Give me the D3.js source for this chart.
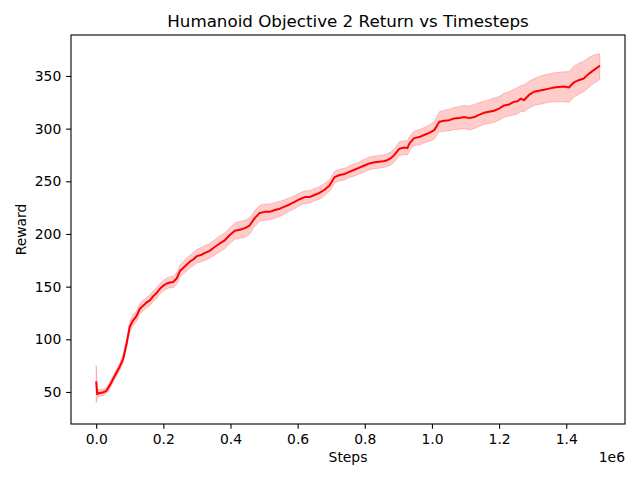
<!DOCTYPE html>
<html><head><meta charset="utf-8">
<script src="https://cdn.jsdelivr.net/npm/d3@7"></script>
<style>body{margin:0;background:#fff}svg{display:block;font-family:"DejaVu Sans",sans-serif}</style>
</head><body><svg id="c" width="640" height="480"></svg>
<script>
const steps = [0,3000,10000,20000,30000,40000,50000,60000,70000,80000,90000,100000,110000,120000,130000,140000,150000,160000,170000,180000,190000,200000,210000,220000,230000,240000,250000,260000,270000,280000,290000,300000,312000,324000,338000,353000,368000,383000,398000,413000,428000,443000,457000,472000,487000,502000,517000,532000,547000,561000,576000,591000,606000,621000,636000,650000,665000,680000,695000,710000,725000,740000,754000,769000,784000,799000,814000,829000,843000,855000,867000,878000,888000,903000,918000,927000,933000,947000,962000,977000,992000,1007000,1022000,1037000,1051000,1066000,1081000,1096000,1111000,1126000,1140000,1155000,1170000,1185000,1200000,1215000,1230000,1244000,1255000,1265000,1274000,1289000,1304000,1319000,1334000,1349000,1363000,1378000,1393000,1408000,1423000,1437000,1452000,1467000,1482000,1497000,1500000];
const meanReward = [60,48,49,49.5,51,56,62,68,74,81,95,112,118,122,129,132,135,137,141,144,148,151,153,154,154.5,158,165,168,171,174,176,179,180,182,184,187.6,191,194,199,203,204,205.6,208,215,220,221,221,222.7,224,226,228,230.5,233,235,235,237,239,242,246,254,256,257,259,261,263,265,267,268,268.5,269,270,272,275,281,282,281.5,286,291,292,294,296,298.6,306.5,307.4,308,309.7,310,311,310,311,313,315,316,317,319,322,323,325.4,326,328.6,327,332,335,336,337,338,339,339.5,340,339,344,346,347.6,352,355.5,359,360];
const lowerReward = [40,44,46,46.5,48,53,59,65,70.5,77.5,91,107,113,117,124,127,130,132,136,139,143,146,148,149,149,152.5,159.5,162,165,168,170,172.5,173.5,175,177,180,183,186,191,195,196,197,200,207,212,213,213.5,215,216.5,219,221.5,224,227,229,229.5,231.5,233,236.5,240.5,248.5,250.5,251.5,253.5,255,257,259,261,262,262.5,263,264,265.5,268.5,274.5,275.5,275,279,284,284.5,286.5,288,290,297,297.5,298,299,299.5,300,299,300,302,304,305,306,308,311,312,313,314,316.5,316,319.5,322,323,324,325,325.5,325.5,325.5,325,330,332.5,335,339,343,346,347];
const upperReward = [75,53,52,52.5,54,59,65.5,71.5,77.5,85,99.5,117,123,127,134,137,140,142,146,149,153,156,158,159.5,160,163.5,170.5,174,177,180,182.5,185.5,187,189,191,194.5,198,201,206,210.5,212,213,215.5,222,227,228.5,228.5,230,231,232.5,234.5,236.5,239,241,241,243,245,248,251.5,259.5,261.5,262.5,264.5,266.5,268.5,271,273,274,274.5,275,276,278,281,287.5,288.5,288.5,292.5,297.5,299,301,303.5,306.5,316,317.5,318.5,320,321,322,321.5,323,324.5,326,327.5,329,330.5,333.5,335,337.5,339,341,341.5,345,347.5,349.5,351,352,353,353.5,354,354,359.5,362,364,367.5,370,371,371];
const xTicks = [0,200000,400000,600000,800000,1000000,1200000,1400000];
const yTicks = [50,100,150,200,250,300,350];
const titleText = "Humanoid Objective 2 Return vs Timesteps";
const xLabel = "Steps", yLabel = "Reward", xOffsetText = "1e6";

const L = 71, R = 625, T = 35, B = 424;
const svg = d3.select("#c");
const x = d3.scaleLinear().domain([-75000, 1575000]).range([L, R]);
const y = d3.scaleLinear().domain([19.6, 388.9]).range([B, T]);
const data = steps.map((s, i) => ({s, m: meanReward[i], lo: lowerReward[i], hi: upperReward[i]}));

svg.append("clipPath").attr("id","clp").append("rect").attr("x",L).attr("y",T).attr("width",R-L).attr("height",B-T);
const g = svg.append("g").attr("clip-path","url(#clp)");
g.append("path").datum(data)
  .attr("d", d3.area().x(d => x(d.s)).y0(d => y(d.lo)).y1(d => y(d.hi)))
  .attr("fill","rgba(255,0,0,0.2)").attr("stroke","rgba(255,0,0,0.2)").attr("stroke-width",1);
g.append("path").datum(data)
  .attr("d", d3.line().x(d => x(d.s)).y(d => y(d.m)))
  .attr("fill","none").attr("stroke","#ff0000").attr("stroke-width",2).attr("stroke-linejoin","round");

const fs = "13.9px";
const xa = svg.append("g").attr("transform",`translate(0,${B})`)
  .call(d3.axisBottom(x).tickValues(xTicks).tickFormat(d => (d/1e6).toFixed(1)).tickSize(4.86).tickPadding(4.86).tickSizeOuter(0));
const ya = svg.append("g").attr("transform",`translate(${L},0)`)
  .call(d3.axisLeft(y).tickValues(yTicks).tickFormat(d3.format("d")).tickSize(4.86).tickPadding(4.86).tickSizeOuter(0));
[xa, ya].forEach(a => {
  a.select(".domain").remove();
  a.selectAll("text").attr("font-size", fs).attr("font-family","DejaVu Sans").attr("fill","#000");
  a.selectAll("line").attr("stroke","#000").attr("stroke-width",1.1);
});
svg.append("rect").attr("x",L).attr("y",T).attr("width",R-L).attr("height",B-T)
  .attr("fill","none").attr("stroke","#000").attr("stroke-width",1.1);

svg.append("text").attr("x",(L+R)/2).attr("y",27).attr("text-anchor","middle").attr("font-size","16.7px").text(titleText);
svg.append("text").attr("x",(L+R)/2).attr("y",462).attr("text-anchor","middle").attr("font-size",fs).text(xLabel);
svg.append("text").attr("x",R).attr("y",462).attr("text-anchor","end").attr("font-size",fs).text(xOffsetText);
svg.append("text").attr("transform",`translate(26,${(T+B)/2}) rotate(-90)`).attr("text-anchor","middle").attr("font-size",fs).text(yLabel);
</script></body></html>
